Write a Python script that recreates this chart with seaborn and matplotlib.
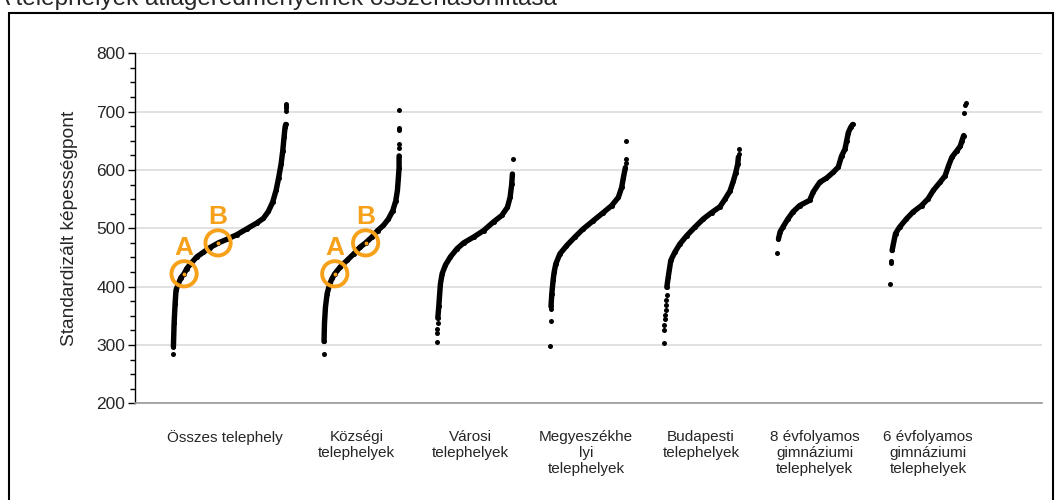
import pandas as pd
import seaborn as sns
import matplotlib
matplotlib.use("Agg")
import matplotlib.pyplot as plt
from matplotlib.patches import Rectangle
from matplotlib.ticker import MultipleLocator

# =========================
# DATA
# rank = position of the site inside its group (0 = lowest, 1 = highest)
# =========================

title = "A telephelyek átlageredményeinek összehasonlítása"
ylabel = "Standardizált képességpont"

categories = [
    "Összes telephely",
    "Községi\ntelephelyek",
    "Városi\ntelephelyek",
    "Megyeszékhe\nlyi\ntelephelyek",
    "Budapesti\ntelephelyek",
    "8 évfolyamos\ngimnáziumi\ntelephelyek",
    "6 évfolyamos\ngimnáziumi\ntelephelyek",
]

osszes_rank = [0.0, 0.006, 0.012, 0.021, 0.029, 0.05, 0.071, 0.1, 0.124, 0.153, 0.212, 0.271, 0.329,
               0.403, 0.476, 0.565, 0.653, 0.741, 0.8, 0.844, 0.882, 0.912, 0.935, 0.956, 0.971,
               0.982, 0.991, 0.997, 1.0, 1.0, 1.0, 1.0]
osszes_score = [285, 297, 337, 371, 394, 405, 415, 422, 431, 438, 451, 459, 467,
                475, 481, 489, 499, 509, 517, 529, 545, 565, 587, 610, 633,
                656, 673, 678, 701, 706, 710, 713]

kozsegi_rank = [0.0, 0.003, 0.009, 0.022, 0.044, 0.079, 0.11, 0.145, 0.219, 0.307, 0.395, 0.482,
                0.553, 0.636, 0.711, 0.789, 0.855, 0.912, 0.952, 0.974, 0.987, 0.996, 0.996,
                1.0, 1.0, 1.0, 1.0, 1.0]
kozsegi_score = [285, 306, 337, 365, 388, 405, 414, 422, 434, 445, 456, 468,
                 475, 485, 496, 505, 516, 530, 547, 565, 587, 604, 624,
                 638, 644, 668, 672, 703]

varosi_rank = [0.0, 0.0, 0.004, 0.007, 0.009, 0.022, 0.031, 0.044, 0.066, 0.11, 0.175, 0.263,
               0.351, 0.482, 0.614, 0.746, 0.855, 0.93, 0.965, 0.987, 0.996, 1.0]
varosi_score = [305, 320, 328, 337, 346, 366, 383, 405, 422, 437, 451, 465,
                475, 485, 496, 511, 522, 536, 553, 576, 593, 619]

megyeszekhelyi_rank = [0.0, 0.004, 0.004, 0.007, 0.018, 0.035, 0.049, 0.071, 0.124, 0.212, 0.323,
                       0.434, 0.566, 0.699, 0.81, 0.898, 0.942, 0.965, 0.991, 0.996, 0.996, 1.0]
megyeszekhelyi_score = [298, 341, 361, 366, 388, 411, 425, 439, 456, 470, 485,
                        499, 513, 527, 539, 553, 570, 587, 604, 612, 619, 649]

budapesti_rank = [0.0, 0.004, 0.009, 0.013, 0.018, 0.027, 0.031, 0.035, 0.04, 0.04, 0.058, 0.093,
                  0.146, 0.212, 0.301, 0.412, 0.522, 0.633, 0.743, 0.81, 0.876, 0.92, 0.951,
                  0.978, 0.987, 0.996, 1.0]
budapesti_score = [303, 326, 335, 344, 351, 360, 368, 377, 386, 399, 416, 445,
                   459, 473, 487, 502, 516, 527, 537, 550, 564, 581, 595,
                   610, 622, 628, 636]

evf8_rank = [0.0, 0.018, 0.04, 0.076, 0.142, 0.209, 0.298, 0.431, 0.476, 0.564, 0.653, 0.742,
             0.809, 0.853, 0.898, 0.92, 0.942, 0.973, 1.0]
evf8_score = [458, 482, 494, 502, 516, 528, 539, 548, 562, 579, 586, 596,
              605, 624, 636, 650, 664, 673, 678]

evf6_rank = [0.0, 0.009, 0.013, 0.022, 0.04, 0.067, 0.121, 0.21, 0.299, 0.411, 0.5, 0.567,
             0.656, 0.723, 0.768, 0.813, 0.879, 0.924, 0.946, 0.969, 0.978, 0.991, 1.0]
evf6_score = [405, 441, 444, 462, 474, 491, 502, 516, 528, 539, 551, 565,
              579, 590, 607, 622, 633, 641, 650, 659, 698, 711, 714]

# loose (isolated) points at the bottom / top of each group
n_low = [1, 1, 4, 3, 9, 1, 3]
n_high = [4, 5, 1, 3, 2, 0, 3]

# highlighted sites A and B
marker_group = [0, 0, 1, 1]
marker_label = ["A", "B", "A", "B"]
marker_rank = [0.1, 0.4, 0.145, 0.553]
marker_score = [422, 475, 422, 475]

ranks = [osszes_rank, kozsegi_rank, varosi_rank, megyeszekhelyi_rank,
         budapesti_rank, evf8_rank, evf6_rank]
scores = [osszes_score, kozsegi_score, varosi_score, megyeszekhelyi_score,
          budapesti_score, evf8_score, evf6_score]

# horizontal span of each group around its slot
span_left = [-0.668, -0.335, -0.335, -0.335, -0.335, -0.335, -0.335]
span_right = 0.332
tick_pos = [-0.21, 0.954, 1.955, 2.979, 3.994, 4.995, 5.997]

orange = "#F7A11A"

# =========================
# TABLE
# =========================

rows = []
for i, (rank, score) in enumerate(zip(ranks, scores)):
    for j, (r, s) in enumerate(zip(rank, score)):
        part = "curve" if n_low[i] <= j < len(score) - n_high[i] else "loose"
        rows.append({
            "group": i,
            "x": i + span_left[i] + r * (span_right - span_left[i]),
            "score": s,
            "part": part,
        })
df = pd.DataFrame(rows)

# =========================
# PLOT
# =========================

sns.set_style("white")
plt.rcParams["font.family"] = ["Liberation Sans", "DejaVu Sans"]

fig = plt.figure(figsize=(10.63, 5), dpi=100)
ax = fig.add_axes([0.1271, 0.1934, 0.8529, 0.7])

sns.lineplot(
    data=df[df["part"] == "curve"],
    x="x", y="score", units="group", estimator=None,
    color="black", linewidth=3.9, solid_capstyle="round", ax=ax, zorder=3
)
sns.scatterplot(
    data=df, x="x", y="score",
    color="black", s=13, linewidth=0, ax=ax, zorder=3, legend=False
)

for g, lab, r, s in zip(marker_group, marker_label, marker_rank, marker_score):
    x = g + span_left[g] + r * (span_right - span_left[g])
    ax.scatter(x, s, s=330, facecolors="none", edgecolors=orange, linewidths=2.8, zorder=5)
    ax.scatter(x, s, s=8, color=orange, linewidths=0, zorder=6)
    ax.annotate(lab, (x, s), xytext=(0, 13.3), textcoords="offset points",
                ha="center", va="baseline", fontsize=19, fontweight="bold", color=orange)

ax.set_xlim(-1, 7)
ax.set_ylim(200, 800)
ax.set_yticks(range(200, 801, 100))
ax.yaxis.set_minor_locator(MultipleLocator(25))
ax.grid(axis="y", which="major", color="#d9d9d9", linewidth=1.1)
ax.set_axisbelow(True)

ax.set_xticks(tick_pos)
ax.set_xticklabels(categories, fontsize=11, linespacing=1.2)
ax.tick_params(axis="x", length=0, pad=19)
ax.tick_params(axis="y", which="major", left=True, length=5, width=1, color="black", pad=2, labelsize=12.5)
ax.tick_params(axis="y", which="minor", left=True, length=3.6, width=1, color="black")

ax.set_xlabel("")
ax.set_ylabel(ylabel, fontsize=13.8, labelpad=13)

for side in ["top", "right"]:
    ax.spines[side].set_visible(False)
ax.spines["left"].set_color("black")
ax.spines["left"].set_linewidth(1)
ax.spines["bottom"].set_color("#9a9a9a")
ax.spines["bottom"].set_linewidth(1.2)

# frame and (clipped) title
fig.patches.append(Rectangle((8.5 / 1063, -0.05), (1053 - 8.5) / 1063, 1.025,
                             transform=fig.transFigure, fill=False,
                             edgecolor="black", linewidth=1.5))
fig.text(-6 / 1063, 1 - 5.5 / 500, title, fontsize=17.5, va="baseline", ha="left")

fig.savefig("out.png", dpi=100)
